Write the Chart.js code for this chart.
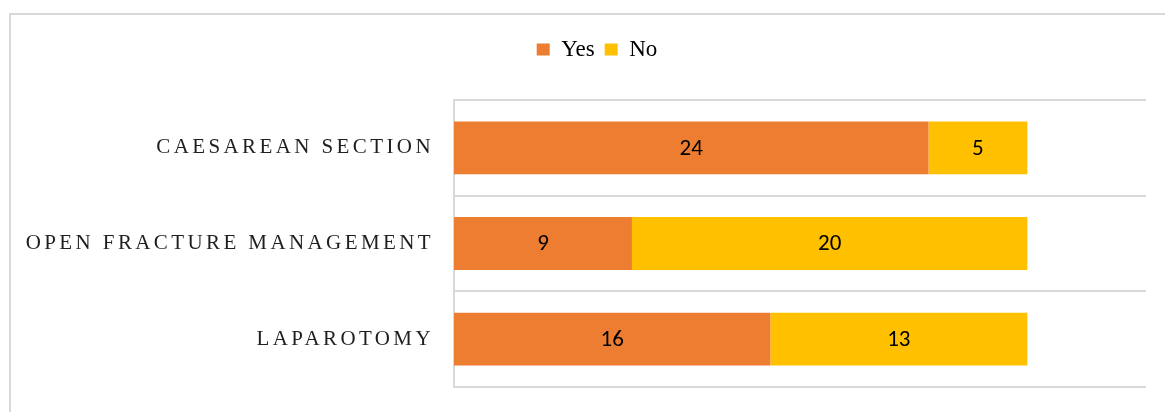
<!DOCTYPE html>
<html>
<head>
<meta charset="utf-8">
<script src="https://cdn.jsdelivr.net/npm/chart.js@4.4.0/dist/chart.umd.min.js"></script>
<style>
  html, body { margin: 0; padding: 0; background: #fff; }
  #wrap { position: relative; width: 1165px; height: 412px; overflow: hidden; }
  #frame { position: absolute; left: 9px; top: 13px; width: 1200px; height: 450px; border: 2px solid #d9d9d9; box-sizing: border-box; }
  #c { position: absolute; left: 0; top: 0; }
</style>
</head>
<body>
<div id="wrap">
  <div id="frame"></div>
  <canvas id="c" width="1194" height="412"></canvas>
</div>
<script>
const categories = ['CAESAREAN SECTION', 'OPEN FRACTURE MANAGEMENT', 'LAPAROTOMY'];
const yesValues = [24, 9, 16];
const noValues = [5, 20, 13];
const seriesNames = ['Yes', 'No'];
const seriesColors = ['#ED7D31', '#FFC000'];
const xMax = 35;

const letterSpacingPlugin = {
  id: 'labelSpacing',
  beforeDraw(chart) {
    const s = chart.scales.y;
    if (s && !s._spacedWrap) {
      const orig = s.drawLabels.bind(s);
      s.drawLabels = function(area) {
        const ctx = chart.ctx;
        ctx.save();
        ctx.letterSpacing = '3.4px';
        orig(area);
        ctx.restore();
      };
      s._spacedWrap = true;
    }
  }
};

const valueLabels = {
  id: 'valueLabels',
  afterDatasetsDraw(chart) {
    const ctx = chart.ctx;
    ctx.save();
    ctx.letterSpacing = '0px';
    ctx.font = '23px Carlito, "Open Sans", "Noto Sans", sans-serif';
    ctx.fillStyle = '#000';
    ctx.textAlign = 'center';
    ctx.textBaseline = 'middle';
    chart.data.datasets.forEach((ds, di) => {
      const meta = chart.getDatasetMeta(di);
      meta.data.forEach((el, i) => {
        const p = el.getCenterPoint();
        ctx.fillText(String(ds.data[i]), p.x, p.y + 1);
      });
    });
    ctx.restore();
  }
};

new Chart(document.getElementById('c'), {
  type: 'bar',
  data: {
    labels: categories,
    datasets: [
      { label: seriesNames[0], data: yesValues, backgroundColor: seriesColors[0], borderWidth: 0, barPercentage: 0.552, categoryPercentage: 1 },
      { label: seriesNames[1], data: noValues, backgroundColor: seriesColors[1], borderWidth: 0, barPercentage: 0.552, categoryPercentage: 1 }
    ]
  },
  options: {
    indexAxis: 'y',
    responsive: false,
    animation: false,
    layout: { padding: { left: 0, right: 0, top: 28, bottom: 25 } },
    scales: {
      x: {
        position: 'top',
        stacked: true,
        min: 0,
        max: xMax,
        grid: { display: false, drawTicks: false },
        border: { display: false },
        ticks: { display: false },
        afterFit(s) { s.height = 29; s.paddingLeft = 0; s.paddingRight = 0; }
      },
      y: {
        stacked: true,
        grid: { color: '#d9d9d9', lineWidth: 2, drawTicks: false, offset: true },
        border: { display: true, color: '#d9d9d9', width: 2 },
        ticks: {
          color: '#1f1f1f',
          font: { family: '"Liberation Serif", "Times New Roman", serif', size: 21 },
          padding: 20
        },
        afterFit(s) { s.width = 454; s.paddingTop = 0; s.paddingBottom = 0; }
      },
      y2: {
        type: 'category',
        position: 'right',
        labels: categories,
        grid: { display: false, drawTicks: false },
        border: { display: false },
        ticks: { display: false },
        afterFit(s) { s.width = 48; s.paddingTop = 0; s.paddingBottom = 0; }
      }
    },
    plugins: {
      legend: {
        position: 'top',
        align: 'center',
        labels: {
          boxWidth: 13,
          boxHeight: 12,
          padding: 10,
          color: '#000',
          font: { family: '"Liberation Serif", "Times New Roman", serif', size: 23 }
        }
      },
      tooltip: { enabled: false }
    }
  },
  plugins: [letterSpacingPlugin, valueLabels]
});
</script>
</body>
</html>
